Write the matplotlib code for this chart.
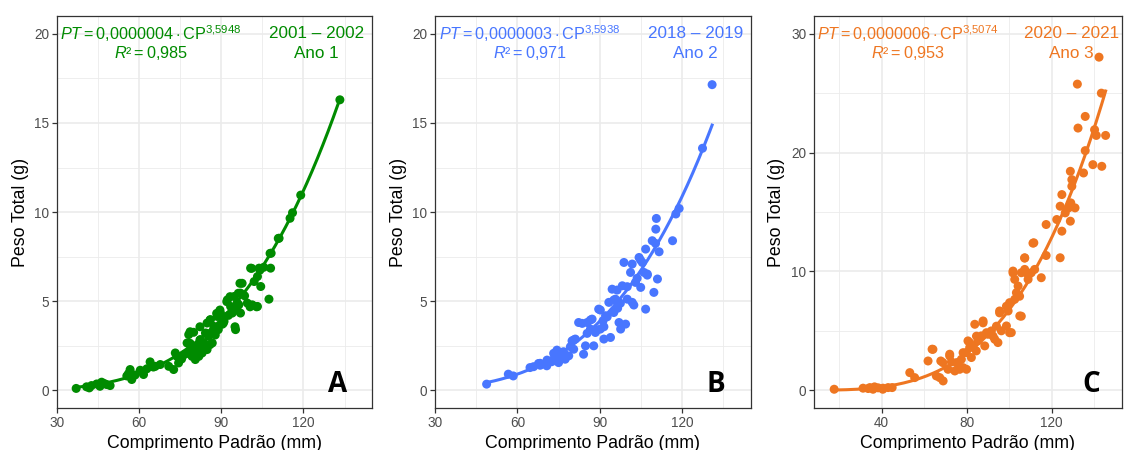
import matplotlib
matplotlib.use("Agg")
import matplotlib.pyplot as plt
import numpy as np
from matplotlib.ticker import MultipleLocator

plt.rcParams['font.family'] = ['Liberation Sans', 'DejaVu Sans']
plt.rcParams['mathtext.fontset'] = 'custom'
plt.rcParams['mathtext.rm'] = 'Liberation Sans'
plt.rcParams['mathtext.it'] = 'Liberation Sans:italic'
plt.rcParams['mathtext.bf'] = 'Liberation Sans:bold'

# Ano 1 (2001-2002)
cp_a = [37, 40.8, 41.8, 42.6, 44.5, 45.7, 46.3, 47.2, 48.1, 49.4,
        55.5, 56.1, 56.7, 57.3, 58.5, 60.4, 61.6, 62.8, 64, 65.2, 65.9, 67.7, 70.8, 72.6, 73.2, 73.8, 74.4, 75.5, 76.5,
        77.5, 78.1, 78.7, 79.3, 79.9, 80.5, 80.8, 81.1, 81.8, 82.4, 82.8, 83, 83.6, 84.2, 84.8, 84.8, 85.4, 85.8, 86,
        86.7, 87.3, 87.8, 88.5, 88.9, 89.7, 90.3, 91, 92.2, 92.6, 93.4, 94, 94.7, 95.2, 95.8, 96.4, 97, 97, 97.6, 98.5,
        99.5, 100.7, 101.3, 102, 103.2, 103.2, 103.8, 104.4, 105.5, 107.4, 108, 108.2, 111.1, 115.1, 116, 119, 133.3,
        78.6, 82.2, 85.9, 88.3, 92, 93.2, 96.8, 96.2, 95, 100.5, 102.9, 101.1, 104.1, 107.8, 110.8,
        78.6, 82.2, 84.7, 89.5, 90.7, 87.1, 77.4, 81, 95.6]
pt_a = [0.1, 0.19, 0.13, 0.26, 0.35, 0.22, 0.45, 0.38, 0.32, 0.26,
        0.8, 0.93, 1.16, 0.6, 0.85, 1.12, 0.88, 1.2, 1.59, 1.3, 1.34, 1.44, 1.34, 1.16, 2.09, 1.9, 1.53, 1.75, 2.0,
        2.65, 3.12, 2.28, 1.9, 3.25, 1.72, 2.2, 2.46, 1.9, 2.84, 2.4, 2.09, 2.65, 3.21, 3.77, 2.28, 3.02, 2.55, 3.96,
        2.65, 3.58, 3.1, 4.14, 3.4, 4.33, 3.7, 3.86, 5.07, 4.2, 4.7, 4.33, 5.26, 3.4, 4.9, 4.79, 5.45, 4.33, 6.0, 5.3,
        4.89, 6.85, 4.79, 6.1, 4.7, 6.38, 6.85, 5.82, 6.9, 5.11, 6.85, 7.69, 8.53, 9.65, 9.96, 10.95, 16.3,
        3.28, 3.56, 3.94, 4.31, 4.97, 5.25, 6.0, 5.44, 3.56, 4.68, 4.68, 6.84, 6.74, 7.68, 8.52,
        2.63, 2.82, 3.19, 4.5, 3.75, 3.38, 2.07, 2.25, 4.5]

# Ano 2 (2018-2019)
cp_b = [48.8, 56.7, 58.5, 64.6, 67.7, 68.3, 70.7, 72.5, 73.2, 74.4, 75, 76.2, 77.4, 78.7, 79.9, 80.5, 81.1, 82.3,
        84.1, 84.8, 85.4, 86.6, 87.2, 87.8, 88.4, 89.6, 90.2, 91.2, 91.5, 92.1, 93.3, 93.9, 94.5, 95.1, 95.7, 96.5,
        97, 97.6, 98.2, 99.4, 98.8, 100, 101.2, 101.8, 101.8, 103, 104.3, 104.9, 105.5, 106.1, 106.7, 106.7, 107.3,
        109.7, 109.1, 110.4, 110.6, 111, 111.6, 116.5, 117.7, 118.9, 127.4, 130.9,
        65.9, 68.3, 73.2, 76.8, 80.5, 83.6, 86.6, 85.4, 89, 90.2, 92.7, 95.1, 96.3, 97.5, 100, 102.4, 103.6,
        104.8, 107.3, 110.3, 74.4, 79.3, 91.5, 75.6, 70.8]
pt_b = [0.34, 0.9, 0.8, 1.27, 1.5, 1.4, 1.37, 1.6, 1.74, 2.12, 1.55, 1.93, 1.74, 1.93, 2.77, 2.3, 2.87, 3.8,
        2.02, 2.49, 3.8, 3.43, 3.99, 2.49, 3.24, 4.55, 3.43, 3.9, 2.87, 4.18, 4.93, 2.96, 5.67, 4.36, 5.11, 4.6,
        3.8, 3.43, 5.86, 3.71, 7.17, 5.11, 6.61, 4.93, 7.08, 6.05, 7.45, 5.77, 7.17, 6.61, 7.92, 4.55, 6.52,
        5.49, 8.39, 9.04, 9.64, 6.24, 7.77, 8.39, 9.89, 10.2, 13.58, 17.15,
        1.32, 1.51, 2.07, 2.16, 2.82, 3.75, 3.94, 3.19, 3.38, 4.5, 4.12, 5.06, 5.62, 4.88, 5.81, 4.78, 6.28,
        7.31, 6.46, 8.24, 2.25, 2.44, 3.56, 1.88, 1.69]

# Ano 3 (2020-2021)
cp_c = [17.6, 31.2, 33.6, 34.4, 35.9, 36.6, 38.3, 40.5, 40.6, 43, 44.9,
        53.2, 55.5, 61.8, 63.7, 65.7, 67.8, 68.9, 71.2, 72, 72.8, 74.4, 76, 77.5, 78.3, 79.8, 80.6, 81.4, 82.2,
        83.8, 84.5, 85.3, 86.9, 87.7, 88.5, 90, 91.6, 93.2, 94.7, 95.5, 96.3, 98.7, 99.5, 100.2, 101, 102.6,
        103.4, 105, 101.8, 102.6, 104.2, 105.7, 107.3, 107.3, 108.9, 110.4, 112, 115.1, 111.6, 117.4, 117.4,
        124, 124.8, 122.4, 124, 124.8, 126.4, 128, 128.8, 129, 129.5, 128.8, 129.5, 131, 135, 135.8, 139.4,
        143.6, 132.4, 135.8, 140.2, 141, 145.4, 143.4, 132.1, 142.3,
        64.1, 68.8, 72, 75.2, 78.3, 81.4, 84.6, 87.7, 89.3, 92.4, 94, 95.5, 100.2, 98.7, 101.8, 104.9, 105.7,
        108.1, 111.2, 107.3, 83, 76.7, 67.3, 79.9]
pt_c = [0.08, 0.17, 0.14, 0.22, 0.08, 0.28, 0.2, 0.08, 0.17, 0.22, 0.22,
        1.48, 1.06, 2.46, 3.45, 1.2, 2.46, 0.78, 1.76, 3.03, 2.38, 1.62, 2.18, 2.6, 1.9, 3.17, 4.15, 3.59, 2.75,
        5.55, 3.31, 4.15, 4.57, 5.83, 3.73, 4.71, 4.99, 4.29, 4.01, 6.67, 5.0, 5.41, 6.67, 7.37, 4.85, 7.65,
        8.21, 6.25, 10.03, 9.33, 8.77, 9.89, 10.17, 11.15, 9.33, 9.89, 10.17, 9.47, 12.41, 11.34, 13.95,
        11.15, 13.39, 14.37, 15.49, 16.47, 14.93, 15.35, 14.23, 15.77, 17.17, 18.43, 17.73, 15.35, 18.29, 20.17, 18.99,
        18.85, 22.07, 23.05, 21.93, 21.45, 21.45, 25.01, 25.77, 28.04,
        3.44, 2.32, 2.88, 2.32, 3.16, 4.0, 4.55, 5.67, 4.84, 4.55, 5.39, 6.51, 4.84, 7.07, 9.87, 7.91, 6.23,
        9.87, 12.38, 11.12, 3.71, 1.76, 1.06, 1.76]

# power fit PT = a * CP^b
fit_a = [3.76e-7, 3.67e-7, 6.55e-7]
fit_b = [3.5948, 3.5938, 3.5074]
eq_labels = [r"$\mathit{PT} = 0{,}0000004 \cdot \mathrm{CP}^{\mathit{3{,}5948}}$",
             r"$\mathit{PT} = 0{,}0000003 \cdot \mathrm{CP}^{\mathit{3{,}5938}}$",
             r"$\mathit{PT} = 0{,}0000006 \cdot \mathrm{CP}^{\mathit{3{,}5074}}$"]
r2_labels = [r"$\mathit{R²} = 0{,}985$", r"$\mathit{R²} = 0{,}971$", r"$\mathit{R²} = 0{,}953$"]
year_labels = ["2001 – 2002", "2018 – 2019", "2020 – 2021"]
ano_labels = ["Ano 1", "Ano 2", "Ano 3"]
panel_letters = ["A", "B", "C"]
colors = ["#008B00", "#4876FF", "#EE7621"]

fig = plt.figure(figsize=(11.24, 4.5), dpi=100)
axes = [fig.add_axes([0.0507, 0.0933, 0.2802, 0.871]),
        fig.add_axes([0.387, 0.0933, 0.281, 0.871]),
        fig.add_axes([0.724, 0.0933, 0.274, 0.871])]

settings = [
    dict(xlim=(30, 145), ylim=(-1, 21), xmaj=30, ymaj=5, eq_x=64.3, year_x=124.7, eq_y=(20, 18.9), letter=(132.5, 0.3)),
    dict(xlim=(30, 145), ylim=(-1, 21), xmaj=30, ymaj=5, eq_x=64.5, year_x=124.9, eq_y=(20, 18.9), letter=(132.2, 0.3)),
    dict(xlim=(8, 153), ylim=(-1.5, 31.5), xmaj=40, ymaj=10, eq_x=52.3, year_x=129.4, eq_y=(30, 28.35), letter=(138.8, 0.5)),
]
data = [(cp_a, pt_a), (cp_b, pt_b), (cp_c, pt_c)]

for i, ax in enumerate(axes):
    s = settings[i]
    x, y = np.array(data[i][0]), np.array(data[i][1])
    col = colors[i]

    ax.scatter(x, y, s=42, color=col, edgecolors='none', zorder=3)
    xs = np.linspace(x.min(), x.max(), 200)
    ax.plot(xs, fit_a[i] * xs ** fit_b[i], color=col, lw=2.2, zorder=4)

    ax.set_xlim(*s['xlim'])
    ax.set_ylim(*s['ylim'])
    ax.xaxis.set_major_locator(MultipleLocator(s['xmaj']))
    ax.xaxis.set_minor_locator(MultipleLocator(s['xmaj'] / 2))
    ax.yaxis.set_major_locator(MultipleLocator(s['ymaj']))
    ax.yaxis.set_minor_locator(MultipleLocator(s['ymaj'] / 2))
    ax.grid(which='major', color='#EBEBEB', lw=1.2)
    ax.grid(which='minor', color='#EBEBEB', lw=0.6)
    ax.set_axisbelow(True)
    ax.tick_params(which='major', direction='out', length=3.5, width=0.9, color='#333333',
                   labelcolor='#4D4D4D', labelsize=9.8, pad=2)
    ax.tick_params(which='minor', length=0)
    for sp in ax.spines.values():
        sp.set_color('#333333')
        sp.set_linewidth(0.9)

    ax.set_xlabel('Comprimento Padrão (mm)', fontsize=12.8, labelpad=4)
    ax.set_ylabel('Peso Total (g)', fontsize=12.8, labelpad=4)

    ax.text(s['eq_x'], s['eq_y'][0], eq_labels[i], color=col, fontsize=11.7, ha='center', va='center')
    ax.text(s['eq_x'], s['eq_y'][1], r2_labels[i], color=col, fontsize=11.7, ha='center', va='center')
    ax.text(s['year_x'], s['eq_y'][0], year_labels[i], color=col, fontsize=12.3, ha='center', va='center')
    ax.text(s['year_x'], s['eq_y'][1], ano_labels[i], color=col, fontsize=12.3, ha='center', va='center')
    ax.text(s['letter'][0], s['letter'][1], panel_letters[i], fontsize=20, fontweight='bold',
            family=['Open Sans', 'DejaVu Sans'], ha='center', va='center', zorder=5)

fig.savefig('out.png', dpi=100)
